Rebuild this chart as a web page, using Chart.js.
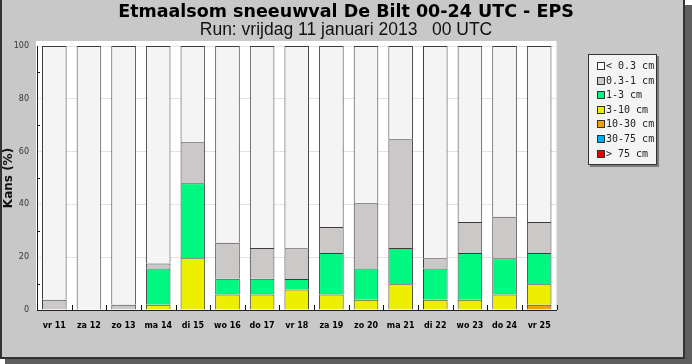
<!DOCTYPE html>
<html>
<head>
<meta charset="utf-8">
<script src="https://cdn.jsdelivr.net/npm/chart.js@4.4.1/dist/chart.umd.min.js"></script>
<style>
body { margin: 0; background: #fff; }
#wrap { position: relative; width: 692px; height: 364px; }
#legend { position: absolute; left: 588px; top: 54px; width: 69px; height: 111px; box-sizing: border-box;
  background: #f4f4f4; border: 1px solid #333; box-shadow: 2px 2px 0 #7a7a7a;
  font: 10px "DejaVu Sans Mono", monospace; color: #222; padding-top: 4px; }
#legend div { height: 14.6px; line-height: 14.6px; padding-left: 8px; white-space: pre; }
#legend span { display: inline-block; width: 6px; height: 6px; border: 1px solid #333; margin-right: 1px; vertical-align: -1px; }
</style>
</head>
<body>
<div id="wrap">
  <canvas id="snowChart" width="692" height="364"></canvas>
  <div id="legend"></div>
</div>
<script>
const days = ['vr 11', 'za 12', 'zo 13', 'ma 14', 'di 15', 'wo 16', 'do 17', 'vr 18',
              'za 19', 'zo 20', 'ma 21', 'di 22', 'wo 23', 'do 24', 'vr 25'];
// kans (%) per klasse, per dag
const lt03    = [96.1, 100, 98.0, 82.4, 36.5, 74.5, 76.5, 76.6, 68.6, 59.6, 35.3, 80.4, 66.7, 64.7, 66.7];
const cm03_1  = [3.9, 0, 2.0, 1.9, 15.5, 13.7, 11.7, 11.7, 9.8, 24.7, 41.2, 3.9, 11.7, 15.7, 11.7];
const cm1_3   = [0, 0, 0, 13.7, 28.4, 5.9, 5.9, 3.9, 15.7, 11.8, 13.7, 11.8, 17.7, 13.7, 11.8];
const cm3_10  = [0, 0, 0, 2.0, 19.6, 5.9, 5.9, 7.8, 5.9, 3.9, 9.8, 3.9, 3.9, 5.9, 7.8];
const cm10_30 = [0, 0, 0, 0, 0, 0, 0, 0, 0, 0, 0, 0, 0, 0, 2.0];
const cm30_75 = [0, 0, 0, 0, 0, 0, 0, 0, 0, 0, 0, 0, 0, 0, 0];
const gt75    = [0, 0, 0, 0, 0, 0, 0, 0, 0, 0, 0, 0, 0, 0, 0];
const yTicks = [0, 20, 40, 60, 80, 100];

// stack order: bottom first
const series = [
    { label: '> 75 cm',   data: gt75,    color: '#e80000' },
    { label: '30-75 cm',  data: cm30_75, color: '#00b0f0' },
    { label: '10-30 cm',  data: cm10_30, color: '#f4a000' },
    { label: '3-10 cm',   data: cm3_10,  color: '#eeee00' },
    { label: '1-3 cm',    data: cm1_3,   color: '#00f880' },
    { label: '0.3-1 cm',  data: cm03_1,  color: '#ccc8c8' },
    { label: '< 0.3 cm',  data: lt03,    color: '#f4f4f4' }
];

const bgPlugin = {
    id: 'bgPlugin',
    beforeDraw(chart) {
        const c = chart.ctx, a = chart.chartArea;
        c.save();
        c.fillStyle = '#5e5e5e';
        c.fillRect(5, 5, 687, 359);
        c.fillStyle = '#333';
        c.fillRect(0, 0, 685, 359);
        c.fillStyle = '#c8c8c8';
        c.fillRect(2, 0, 681, 357);
        c.fillStyle = '#fff';
        c.fillRect(a.left - 1, a.top - 5, a.right - a.left + 1, a.bottom - a.top + 5);
        c.restore();
    }
};

const tickPlugin = {
    id: 'tickPlugin',
    afterDraw(chart) {
        const c = chart.ctx, a = chart.chartArea;
        const xs = chart.scales.x, ys = chart.scales.y;
        const pitch = (a.right - a.left) / days.length;
        c.save();
        c.strokeStyle = '#111';
        c.lineWidth = 1;
        c.beginPath();
        for (let i = 0; i <= days.length; i++) {
            const x = Math.round(xs.getPixelForValue(i) - pitch / 2) + 0.5;
            c.moveTo(x, a.bottom);
            c.lineTo(x, a.bottom - 5);
        }
        for (let v = 10; v < 100; v += 20) {
            const y = Math.round(ys.getPixelForValue(v)) + 0.5;
            c.moveTo(a.left, y);
            c.lineTo(a.left + 3, y);
        }
        c.stroke();
        c.restore();
    }
};

let ctx = document.getElementById('snowChart').getContext('2d');
let snowChart = new Chart(ctx, {
    type: 'bar',
    data: {
        labels: days,
        datasets: series.map(s => ({
            label: s.label,
            data: s.data.map(v => v || null),
            backgroundColor: s.color,
            borderColor: '#3c3c3c',
            borderWidth: 1,
            barPercentage: 0.71,
            categoryPercentage: 1
        }))
    },
    options: {
        responsive: false,
        animation: false,
        layout: { padding: 0 },
        plugins: {
            legend: { display: false },
            tooltip: { enabled: false },
            title: {
                display: true, text: 'Etmaalsom sneeuwval De Bilt 00-24 UTC - EPS', color: '#000',
                font: { family: 'DejaVu Sans', size: 17.5, weight: 'bold', lineHeight: 1 },
                padding: { top: 3.5, bottom: 0 }
            },
            subtitle: {
                display: true, text: 'Run: vrijdag 11 januari 2013   00 UTC', color: '#111',
                font: { family: 'Liberation Sans', size: 17.5, lineHeight: 1 },
                padding: { top: 0.5, bottom: 7 }
            }
        },
        scales: {
            x: {
                stacked: true,
                grid: { display: false },
                border: { color: '#222' },
                ticks: { color: '#000', font: { family: 'DejaVu Sans', size: 8, weight: 'bold' },
                         padding: 3, maxRotation: 0, autoSkip: false },
                afterFit(s) { s.height = 54; }
            },
            y: {
                stacked: true, min: 0, max: 100,
                ticks: { stepSize: 20, color: '#333', font: { family: 'DejaVu Sans', size: 8 }, padding: 8 },
                afterBuildTicks(s) { s.ticks = yTicks.map(v => ({ value: v })); },
                grid: { drawTicks: false, color: c => c.tick.value > 0 ? '#e2e2e2' : 'rgba(0,0,0,0)' },
                border: { color: '#222' },
                title: { display: true, text: 'Kans (%)', color: '#111',
                         font: { family: 'DejaVu Sans', size: 12, weight: 'bold' }, padding: { top: 2, bottom: 0 } },
                afterFit(s) { s.width = 37; }
            },
            // lege ruimte rechts voor de legenda
            yRight: {
                position: 'right', min: 0, max: 100,
                grid: { display: false, drawTicks: false },
                border: { display: false },
                ticks: { display: false },
                afterFit(s) { s.width = 135.5; }
            }
        }
    },
    plugins: [bgPlugin, tickPlugin]
});

// legenda, bovenste klasse eerst
const legend = document.getElementById('legend');
series.slice().reverse().forEach(s => {
    const row = document.createElement('div');
    const box = document.createElement('span');
    box.style.background = s.label === '< 0.3 cm' ? '#fff' : s.color;
    row.appendChild(box);
    row.appendChild(document.createTextNode(s.label));
    legend.appendChild(row);
});
</script>
</body>
</html>
